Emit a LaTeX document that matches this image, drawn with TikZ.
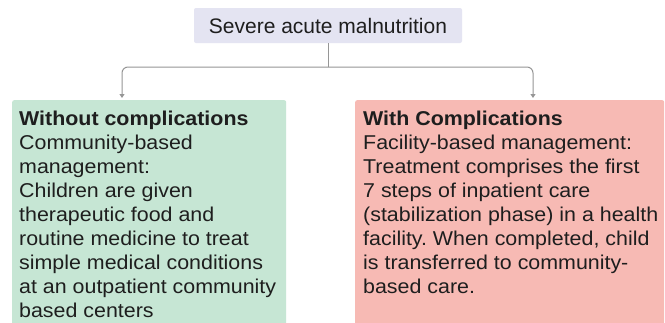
\documentclass[tikz,border=0pt]{standalone}
\usepackage{fontspec}
\setmainfont{Liberation Sans}
\newfontfamily\panelfont[FakeStretch=1.07]{Liberation Sans}
\usetikzlibrary{arrows.meta}
\frenchspacing
\definecolor{topfill}{RGB}{228,228,242}
\definecolor{greenfill}{RGB}{198,230,212}
\definecolor{pinkfill}{RGB}{247,186,180}
\definecolor{linegray}{RGB}{150,150,150}
\definecolor{txt}{RGB}{30,30,30}
\tikzset{
  topbox/.style={fill=topfill, rounded corners=2pt, minimum width=268pt, minimum height=35pt, inner sep=0pt, text=txt, font=\fontsize{21}{24}\selectfont},
  panel/.style={rounded corners=2pt, minimum width=#1, minimum height=240pt, anchor=north west, inner sep=0pt},
  paneltext/.style={anchor=north west, align=left, inner sep=0pt, text=txt, font=\panelfont\fontsize{20}{24}\selectfont},
  conn/.style={draw=linegray, line width=1pt, rounded corners=6pt},
  tip/.style={-{Triangle[width=5pt,length=4pt]}}
}
\begin{document}
\begin{tikzpicture}[x=1pt,y=-1pt]
\useasboundingbox (0,0) rectangle (665,322);
\clip (0,0) rectangle (665,322);
\fill[white] (0,0) rectangle (665,322);
\node[topbox] (top) at (328,25.5) {Severe acute malnutrition};
\node[panel=274pt, fill=greenfill] (left) at (12,100) {};
\node[panel=309pt, fill=pinkfill] (right) at (355,100) {};
\coordinate (mid) at (328,67);
\draw[conn] (top.south) -- (mid);
\draw[conn, tip] (mid) -| ([yshift=2pt]left.north -| 122,0);
\draw[conn, tip] (mid) -| ([yshift=2pt]right.north -| 533,0);
\node[paneltext] (lt) at (19,111) {\textbf{Without complications}\\Community-based\\management:\\Children are given\\therapeutic food and\\routine medicine to treat\\simple medical conditions\\at an outpatient community\\based centers};
\node[paneltext] (rt) at (363,111) {\textbf{With Complications}\\Facility-based management:\\Treatment comprises the first\\7 steps of inpatient care\\(stabilization phase) in a health\\facility. When completed, child\\is transferred to community-\\based care.};
\end{tikzpicture}
\end{document}
